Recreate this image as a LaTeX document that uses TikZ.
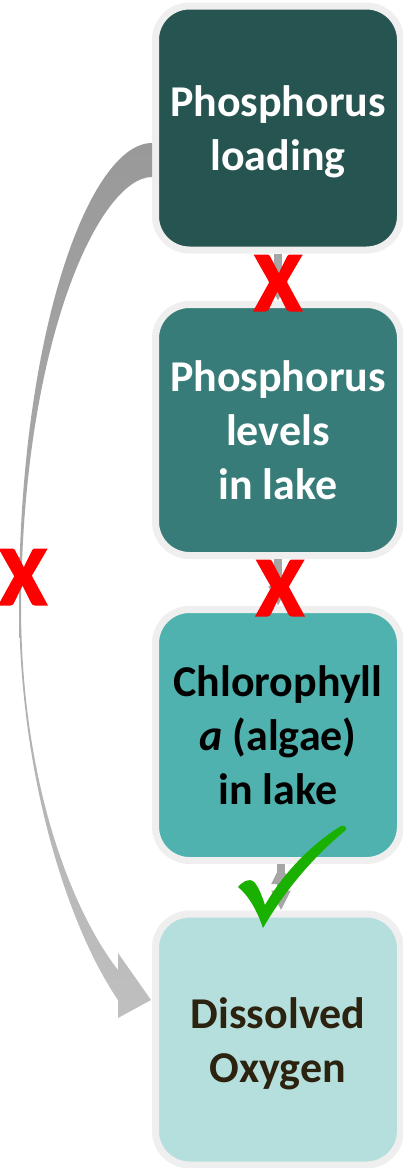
\documentclass[tikz,border=0pt]{standalone}
\usepackage{fontspec}
\setmainfont{Carlito}
\newfontfamily\crossfont[FakeBold=3]{Carlito}
\usetikzlibrary{positioning, arrows.meta, calc}
\definecolor{loadteal}{RGB}{38, 84, 80}
\definecolor{levelteal}{RGB}{55, 124, 120}
\definecolor{algaeteal}{RGB}{80, 178, 174}
\definecolor{oxyteal}{RGB}{181, 223, 220}
\definecolor{oxytext}{RGB}{43, 34, 16}
\definecolor{rimgray}{RGB}{239, 239, 239}
\definecolor{linkgray}{RGB}{166, 166, 166}
\definecolor{crossred}{RGB}{255, 0, 0}
\definecolor{tickgreen}{RGB}{26, 176, 0}
\newcommand{\tstrut}{\rule[-10pt]{0pt}{51pt}}
\tikzset{
  stage/.style={
    draw=rimgray,
    line width=7pt,
    rounded corners=34pt,
    minimum width=245pt,
    minimum height=251pt,
    inner sep=0pt,
    align=center,
    font=\fontsize{44}{54}\selectfont\bfseries
  },
  link/.style={
    -{Triangle[width=18pt, length=20pt]},
    line width=8pt,
    draw=linkgray
  },
  nolink/.style={
    text=crossred,
    inner sep=0pt,
    font=\fontsize{84}{84}\crossfont\bfseries
  }
}

\begin{document}
\begin{tikzpicture}[x=1pt, y=-1pt]
  \useasboundingbox (0,0) rectangle (403,1168);
  \node[stage, fill=loadteal, text=white, minimum height=244pt] (load) at (278, 128) {Phosphorus\tstrut\\loading\tstrut};
  \node[stage, fill=levelteal, text=white] (lvl) at (278, 430) {Phosphorus\tstrut\\levels\tstrut\\in lake\tstrut};
  \node[stage, fill=algaeteal, text=black] (chl) at (278, 735) {Chlorophyll\tstrut\\\textit{a} (algae)\tstrut\\in lake\tstrut};
  \node[stage, fill=oxyteal, text=oxytext] (dox) at (278, 1039.5) {Dissolved\tstrut\\Oxygen\tstrut};

  % long way round, from loading straight to oxygen
  \coordinate (bendtop) at ($(load.west)+(0,15)$);
  \coordinate (bendbot) at ($(load.west)+(0,49)$);
  \coordinate (tip) at ($(dox.west)+(-1,-39.5)$);
  \shade[top color=black!40, bottom color=black!25]
    (bendtop) .. controls (90,143) and (20,330) .. (19,600)
    .. controls (19,780) and (70,930) .. ($(tip)+(-33,0)$)
    -- ($(tip)+(-33,18)$) -- (tip) -- ($(tip)+(-33,-47)$) -- ($(tip)+(-33,-30)$)
    .. controls (75,915) and (22,790) .. (21,610)
    .. controls (22,340) and (100,177) .. (bendbot) -- cycle;

  \path[link] (load.south) edge (lvl.north)
              (lvl.south) edge (chl.north)
              ([xshift=3pt]chl.south) edge ([xshift=3pt]dox.north);

  \node[nolink] (cut1) at (278, 283) {X};
  \node[nolink] (cut2) at (280, 588) {X};
  \node[nolink] (cut3) at (23, 577) {X};

  % tick
  \fill[tickgreen] (238,887) .. controls (244,880) and (250,879) .. (253,881)
    .. controls (258,885) and (262,896) .. (265,905)
    .. controls (285,870) and (315,842) .. (341,826)
    .. controls (344,825) and (347,827) .. (346,830)
    .. controls (315,855) and (285,890) .. (263,928)
    .. controls (257,910) and (248,895) .. (238,887) -- cycle;
\end{tikzpicture}
\end{document}
